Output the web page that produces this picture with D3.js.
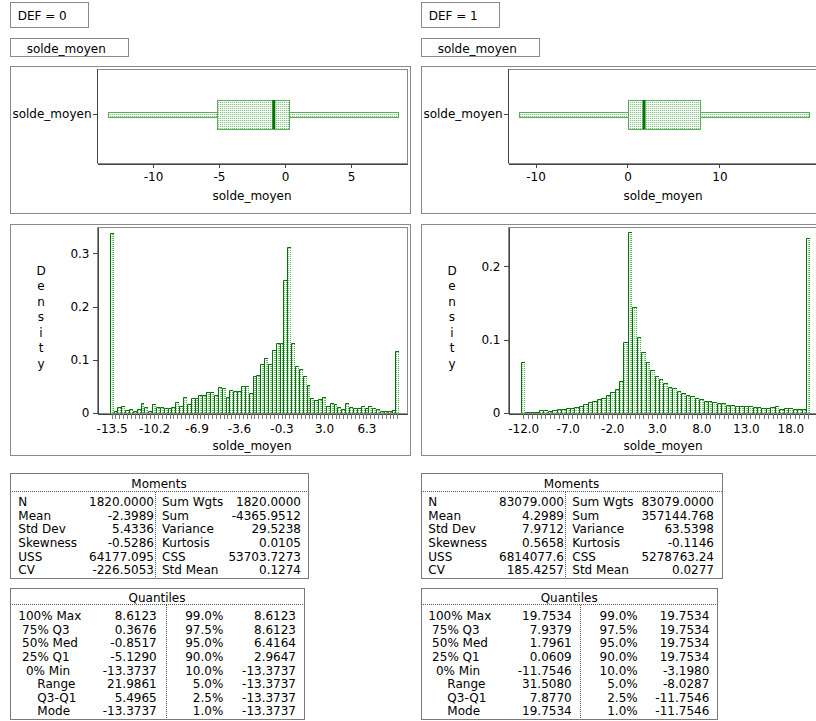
<!DOCTYPE html>
<html>
<head>
<meta charset="utf-8">
<script src="https://cdn.jsdelivr.net/npm/d3@7"></script>
<style>
  body { margin: 0; background: #ffffff; }
  svg text { font-family: "DejaVu Sans", Verdana, sans-serif; font-size: 12px; fill: #000; }
</style>
</head>
<body>
<svg id="chart" width="816" height="721"></svg>
<script>
// ---- Data -------------------------------------------------------------
const groupLabels = ["DEF = 0", "DEF = 1"];
const varName = "solde_moyen";

// Box plot statistics: min, Q1, median, Q3, max
const box0 = [-13.3737, -5.1290, -0.8517, 0.3676, 8.6123];
const box1 = [-11.7546, 0.0609, 1.7961, 7.9379, 19.7534];
const boxTicks0 = [-10, -5, 0, 5];
const boxTicks1 = [-10, 0, 10];

// Histogram (density per bin), bins given by first midpoint and width
const hist0Start = -13.5, hist0Step = 0.3;
const hist0Density = [
  0.339, 0.003, 0.012, 0.013, 0.006, 0.008, 0.003, 0.007, 0.019, 0.012,
  0.003, 0.016, 0.011, 0.012, 0.010, 0.010, 0.012, 0.020, 0.013, 0.031,
  0.017, 0.028, 0.028, 0.034, 0.034, 0.039, 0.039, 0.034, 0.049, 0.047,
  0.031, 0.044, 0.042, 0.041, 0.051, 0.050, 0.038, 0.069, 0.071, 0.093,
  0.104, 0.093, 0.119, 0.132, 0.131, 0.249, 0.312, 0.132, 0.088, 0.083,
  0.069, 0.052, 0.028, 0.024, 0.026, 0.030, 0.014, 0.019, 0.016, 0.012,
  0.008, 0.018, 0.012, 0.010, 0.010, 0.014, 0.009, 0.014, 0.009, 0.008,
  0.004, 0.004, 0.004, 0.006, 0.116
];
const hist1Start = -12.0, hist1Step = 0.5;
const hist1Density = [
  0.069, 0.002, 0.002, 0.002, 0.0035, 0.0035, 0.0025, 0.004, 0.0055, 0.0055,
  0.0068, 0.0073, 0.0086, 0.010, 0.012, 0.0145, 0.016, 0.0186, 0.021, 0.024,
  0.028, 0.033, 0.044, 0.097, 0.247, 0.144, 0.104, 0.083, 0.070, 0.058,
  0.051, 0.047, 0.041, 0.035, 0.034, 0.030, 0.027, 0.025, 0.023, 0.020,
  0.019, 0.017, 0.016, 0.015, 0.013, 0.013, 0.011, 0.011, 0.010, 0.010,
  0.009, 0.009, 0.008, 0.008, 0.007, 0.007, 0.008, 0.009, 0.006, 0.007,
  0.007, 0.006, 0.006, 0.006, 0.238
];
const densityTicks0 = [0, 0.1, 0.2, 0.3];
const densityTicks1 = [0, 0.1, 0.2];

// Moments table
const momentLabelsA = ["N", "Mean", "Std Dev", "Skewness", "USS", "CV"];
const momentLabelsB = ["Sum Wgts", "Sum", "Variance", "Kurtosis", "CSS", "Std Mean"];
const moments0A = ["1820.0000", "-2.3989", "5.4336", "-0.5286", "64177.095", "-226.5053"];
const moments0B = ["1820.0000", "-4365.9512", "29.5238", "0.0105", "53703.7273", "0.1274"];
const moments1A = ["83079.000", "4.2989", "7.9712", "0.5658", "6814077.6", "185.4257"];
const moments1B = ["83079.0000", "357144.768", "63.5398", "-0.1146", "5278763.24", "0.0277"];

// Quantiles table
const NB = "\u00a0";
const quantLabelsA = ["100% Max", NB + "75% Q3", NB + "50% Med", NB + "25% Q1",
                      NB + NB + "0% Min", NB.repeat(5) + "Range", NB.repeat(5) + "Q3-Q1", NB.repeat(5) + "Mode"];
const quantLabelsB = ["99.0%", "97.5%", "95.0%", "90.0%", "10.0%", "5.0%", "2.5%", "1.0%"];
const quant0A = ["8.6123", "0.3676", "-0.8517", "-5.1290", "-13.3737", "21.9861", "5.4965", "-13.3737"];
const quant0B = ["8.6123", "8.6123", "6.4164", "2.9647", "-13.3737", "-13.3737", "-13.3737", "-13.3737"];
const quant1A = ["19.7534", "7.9379", "1.7961", "0.0609", "-11.7546", "31.5080", "7.8770", "19.7534"];
const quant1B = ["19.7534", "19.7534", "19.7534", "19.7534", "-3.1980", "-8.0287", "-11.7546", "-11.7546"];

// ---- Styling ----------------------------------------------------------
const GREEN_DARK = "#007400";
const GREEN_MID = "#5aac5a";
const FRAME = "#8a8a8a";
const AXIS = "#444444";

const svg = d3.select("#chart");
const defs = svg.append("defs");
// sparse dotted green fill used by bars and box
const mesh = defs.append("pattern").attr("id", "mesh")
  .attr("width", 2).attr("height", 2).attr("patternUnits", "userSpaceOnUse");
mesh.append("rect").attr("width", 2).attr("height", 2).attr("fill", "#ffffff");
mesh.append("rect").attr("width", 1).attr("height", 1).attr("fill", "#82c282");
mesh.append("rect").attr("x", 1).attr("width", 1).attr("height", 1).attr("fill", "#e2f1e2");

const panels = [
  { x0: 10, label: groupLabels[0], box: box0, boxTicks: boxTicks0, boxDomain: [-14.24, 9.24],
    start: hist0Start, step: hist0Step, dens: hist0Density, histDomain: [-14.634, 9.45],
    yMax: 0.3495, yTicks: densityTicks0, labelEvery: 11,
    momA: moments0A, momB: moments0B, mW: 298, mCols: [8.3, 144, 145, 152, 291],
    qA: quant0A, qB: quant0B, qW: 294, qCols: [8.3, 146.7, 156, 213.3, 286] },
  { x0: 421, label: groupLabels[1], box: box1, boxTicks: boxTicks1, boxDomain: [-12.99, 20.71],
    start: hist1Start, step: hist1Step, dens: hist1Density, histDomain: [-13.71, 21.10],
    yMax: 0.2535, yTicks: densityTicks1, labelEvery: 10,
    momA: moments1A, momB: moments1B, mW: 301, mCols: [7.3, 143, 144, 151.3, 293],
    qA: quant1A, qB: quant1B, qW: 296.3, qCols: [7.3, 150.7, 159, 216.7, 288.3] }
];

function frame(g, x, y, w, h, color) {
  g.append("rect").attr("x", x + 0.5).attr("y", y + 0.5).attr("width", w).attr("height", h)
    .attr("fill", "none").attr("stroke", color).attr("stroke-width", 1)
    .attr("shape-rendering", "crispEdges");
}

function styleAxis(sel) {
  sel.selectAll("path.domain").attr("stroke", AXIS).attr("shape-rendering", "crispEdges");
  sel.selectAll(".tick line").attr("stroke", AXIS).attr("shape-rendering", "crispEdges");
  sel.selectAll("text").attr("font-family", null).attr("font-size", null).attr("fill", "#000");
}

function drawPanel(p) {
  const g = svg.append("g");
  const x0 = p.x0;

  // group header and variable tag
  frame(g, x0, 2, 78, 25, FRAME);
  g.append("text").attr("x", x0 + 7.7).attr("y", 19.5).text(p.label);
  frame(g, x0, 38, 118, 18, FRAME);
  g.append("text").attr("x", x0 + 16.7).attr("y", 53.3).text(varName);

  // ---- box plot ----
  frame(g, x0, 66, 400, 147, FRAME);
  const bL = x0 + 87, bR = x0 + 397, bT = 69, bB = 163;
  frame(g, bL, bT, bR - bL, bB - bT, FRAME);
  const xb = d3.scaleLinear().domain(p.boxDomain).range([bL, bR]);
  const yb = d3.scaleBand().domain([varName]).range([bT, 160]);
  const cy = yb(varName) + yb.bandwidth() / 2;
  const [mn, q1, md, q3, mx] = p.box;

  // whiskers as thin bands
  [[mn, q1], [q3, mx]].forEach(([a, b]) => {
    g.append("rect").attr("x", xb(a)).attr("y", cy - 2.5)
      .attr("width", xb(b) - xb(a)).attr("height", 5)
      .attr("fill", "url(#mesh)").attr("stroke", GREEN_MID).attr("stroke-width", 1)
      .attr("shape-rendering", "crispEdges");
  });
  // interquartile box
  g.append("rect").attr("x", xb(q1)).attr("y", cy - 14.5)
    .attr("width", xb(q3) - xb(q1)).attr("height", 29)
    .attr("fill", "url(#mesh)").attr("stroke", GREEN_MID).attr("stroke-width", 1)
    .attr("shape-rendering", "crispEdges");
  // median
  g.append("line").attr("x1", xb(md)).attr("x2", xb(md))
    .attr("y1", cy - 14.5).attr("y2", cy + 14.5)
    .attr("stroke", GREEN_DARK).attr("stroke-width", 3);

  const bxAxis = g.append("g").attr("transform", `translate(0,${bB + 0.5})`)
    .call(d3.axisBottom(xb).tickValues(p.boxTicks).tickSize(4).tickSizeOuter(0).tickPadding(5)
      .tickFormat(d => String(d)));
  styleAxis(bxAxis);
  const byAxis = g.append("g").attr("transform", `translate(${bL + 0.5},0)`)
    .call(d3.axisLeft(yb).tickSize(5).tickSizeOuter(0).tickPadding(1));
  styleAxis(byAxis);
  byAxis.select("path.domain").attr("d", `M0,${bT}V${bB}`);
  g.append("text").attr("x", (bL + bR) / 2).attr("y", 200.4).attr("text-anchor", "middle").text(varName);

  // ---- histogram ----
  frame(g, x0, 224, 400, 231, FRAME);
  const hL = x0 + 87, hR = x0 + 397, hT = 227, hB = 413;
  frame(g, hL, hT, hR - hL, hB - hT, FRAME);
  const xh = d3.scaleLinear().domain(p.histDomain).range([hL, hR]);
  const yh = d3.scaleLinear().domain([0, p.yMax]).range([hB, hT]);
  const mids = p.dens.map((d, i) => p.start + i * p.step);

  const bars = g.append("g");
  p.dens.forEach((d, i) => {
    const a = Math.round(xh(mids[i] - p.step / 2));
    const b = Math.round(xh(mids[i] + p.step / 2));
    const top = Math.round(yh(d));
    bars.append("rect").attr("x", a).attr("y", top).attr("width", b - a).attr("height", hB - top)
      .attr("fill", "url(#mesh)").attr("shape-rendering", "crispEdges");
    bars.append("path").attr("d", `M${b - 0.5},${hB}V${top + 0.5}`)
      .attr("stroke", GREEN_MID).attr("stroke-dasharray", "1,1").attr("fill", "none");
    bars.append("path").attr("d", `M${a + 0.5},${hB}V${top + 0.5}H${b}`)
      .attr("stroke", GREEN_DARK).attr("fill", "none");
  });

  const hxAxis = g.append("g").attr("transform", `translate(0,${hB + 0.5})`)
    .call(d3.axisBottom(xh).tickValues(mids).tickSize(5).tickSizeOuter(0).tickPadding(6)
      .tickFormat((d, i) => i % p.labelEvery === 0 ? d.toFixed(1) : ""));
  styleAxis(hxAxis);
  hxAxis.selectAll(".tick line").attr("stroke", "#777");
  const hyAxis = g.append("g").attr("transform", `translate(${hL + 0.5},0)`)
    .call(d3.axisLeft(yh).tickValues(p.yTicks).tickSize(5).tickSizeOuter(0).tickPadding(3)
      .tickFormat(d => d === 0 ? "0" : d3.format(".1f")(d)));
  styleAxis(hyAxis);
  g.append("text").attr("x", (hL + hR) / 2).attr("y", 450.4).attr("text-anchor", "middle").text(varName);
  "Density".split("").forEach((ch, i) => {
    g.append("text").attr("x", x0 + 31).attr("y", 274.5 + i * 15.5)
      .attr("text-anchor", "middle").text(ch);
  });

  // ---- Moments table ----
  const mTop = 473, mBot = 577.5;
  frame(g, x0, mTop, p.mW, mBot - mTop, "#7a7a7a");
  g.append("text").attr("x", x0 + p.mW / 2).attr("y", 488.3).attr("text-anchor", "middle").text("Moments");
  g.append("line").attr("x1", x0).attr("x2", x0 + p.mW).attr("y1", 491.5).attr("y2", 491.5)
    .attr("stroke", "#555").attr("stroke-dasharray", "1,1");
  g.append("line").attr("x1", x0 + p.mCols[2] + 0.5).attr("x2", x0 + p.mCols[2] + 0.5)
    .attr("y1", 492).attr("y2", mBot).attr("stroke", "#555").attr("stroke-dasharray", "1,1");
  momentLabelsA.forEach((lab, i) => {
    const y = 506 + i * 13.65;
    g.append("text").attr("x", x0 + p.mCols[0]).attr("y", y).text(lab);
    g.append("text").attr("x", x0 + p.mCols[1]).attr("y", y).attr("text-anchor", "end").text(p.momA[i]);
    g.append("text").attr("x", x0 + p.mCols[3]).attr("y", y).text(momentLabelsB[i]);
    g.append("text").attr("x", x0 + p.mCols[4]).attr("y", y).attr("text-anchor", "end").text(p.momB[i]);
  });

  // ---- Quantiles table ----
  const qTop = 587.5, qBot = 719;
  frame(g, x0, qTop, p.qW, qBot - qTop, "#7a7a7a");
  g.append("text").attr("x", x0 + p.qW / 2).attr("y", 602).attr("text-anchor", "middle").text("Quantiles");
  g.append("line").attr("x1", x0).attr("x2", x0 + p.qW).attr("y1", 604.5).attr("y2", 604.5)
    .attr("stroke", "#555").attr("stroke-dasharray", "1,1");
  g.append("line").attr("x1", x0 + p.qCols[2] + 0.5).attr("x2", x0 + p.qCols[2] + 0.5)
    .attr("y1", 605).attr("y2", qBot).attr("stroke", "#555").attr("stroke-dasharray", "1,1");
  quantLabelsA.forEach((lab, i) => {
    const y = 620.3 + i * 13.57;
    g.append("text").attr("x", x0 + p.qCols[0]).attr("y", y).text(lab);
    g.append("text").attr("x", x0 + p.qCols[1]).attr("y", y).attr("text-anchor", "end").text(p.qA[i]);
    g.append("text").attr("x", x0 + p.qCols[3]).attr("y", y).attr("text-anchor", "end").text(quantLabelsB[i]);
    g.append("text").attr("x", x0 + p.qCols[4]).attr("y", y).attr("text-anchor", "end").text(p.qB[i]);
  });
}

panels.forEach(drawPanel);
</script>
</body>
</html>
